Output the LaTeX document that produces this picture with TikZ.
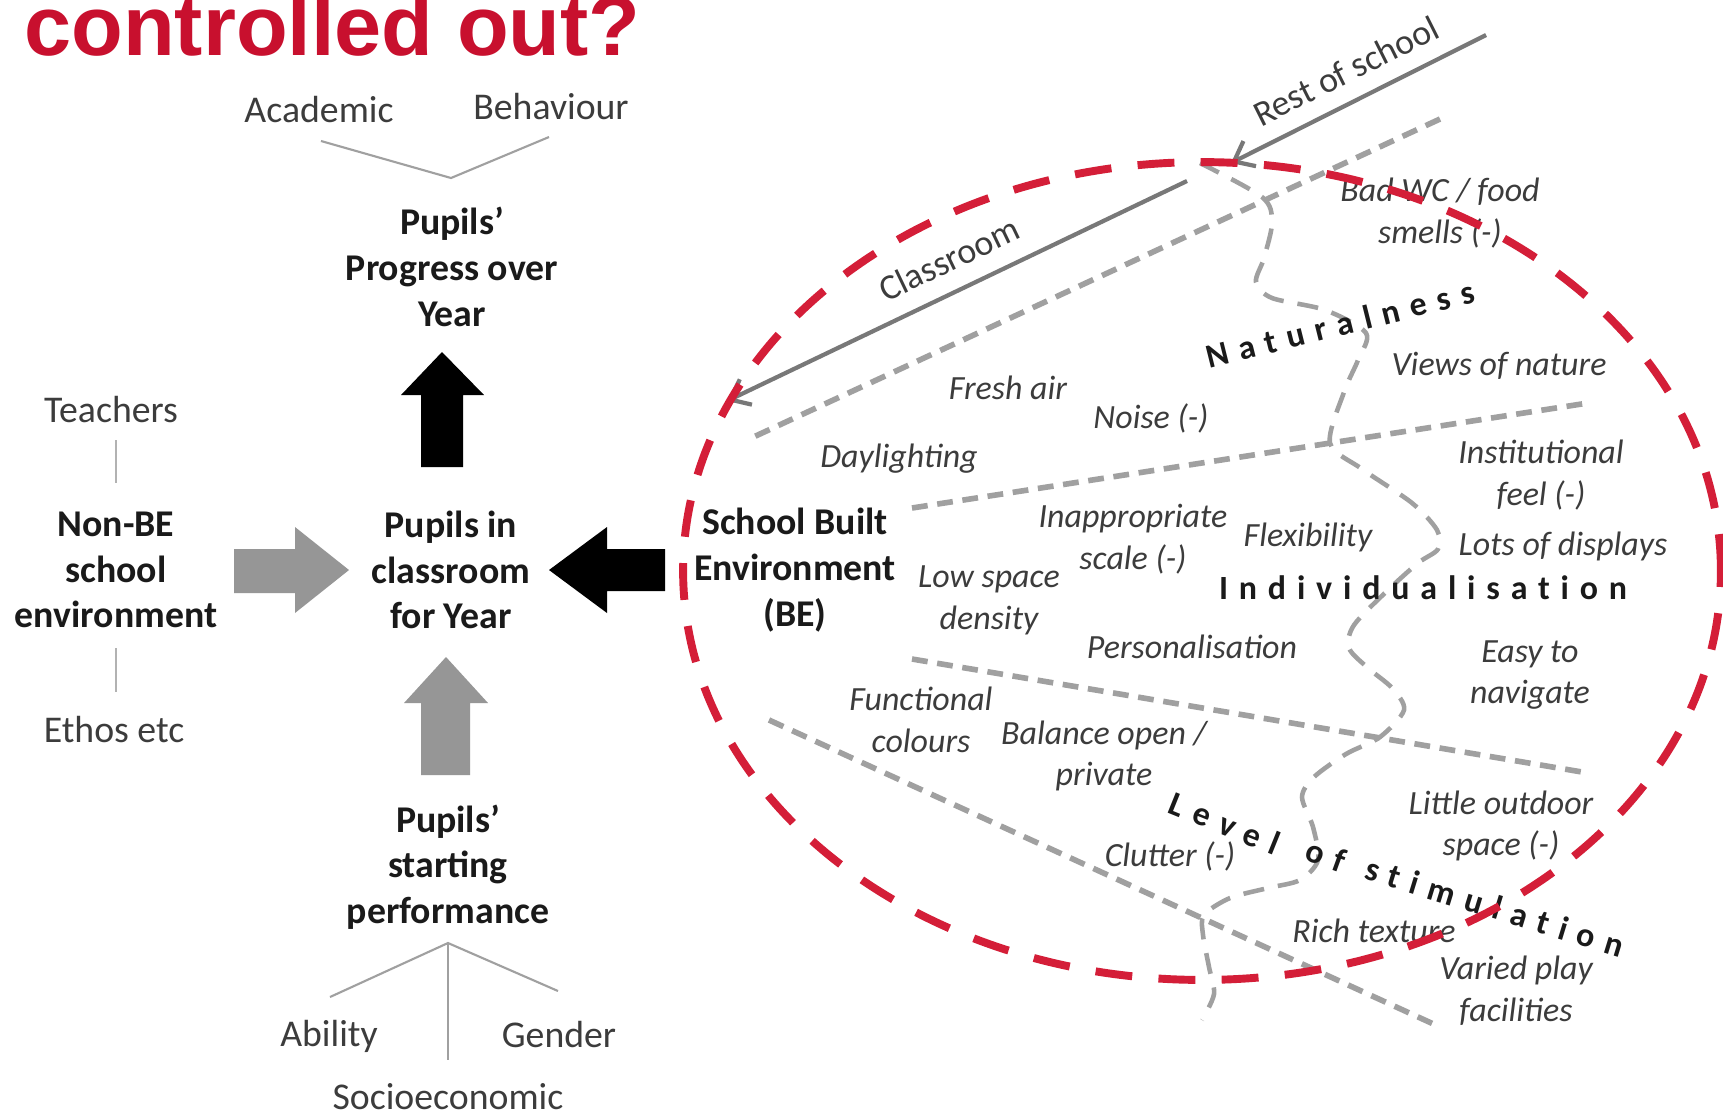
\documentclass[tikz,border=0pt]{standalone}
\usepackage{fontspec}
\setmainfont{Carlito}
\newfontfamily\titlefont{Liberation Sans}
\newfontfamily\spacedfont[LetterSpace=32, Ligatures=NoCommon]{Carlito}
\usetikzlibrary{arrows.meta}
\definecolor{titlered}{RGB}{200,16,46}
\definecolor{ringred}{RGB}{212,30,56}
\definecolor{dashgrey}{RGB}{160,160,160}
\definecolor{linegrey}{RGB}{120,120,120}
\definecolor{arrowgrey}{RGB}{150,150,150}
\definecolor{ink}{RGB}{26,26,26}
\definecolor{softink}{RGB}{60,60,60}

\begin{document}
\begin{tikzpicture}[x=0.02cm,y=-0.02cm,
  every node/.style={inner sep=0pt, align=center},
  mainlbl/.style={font=\fontsize{21.5}{26}\selectfont\bfseries, text=ink},
  sidelbl/.style={font=\fontsize{21.5}{26}\selectfont, text=softink},
  itemlbl/.style={font=\fontsize{19.3}{23.8}\selectfont\itshape, text=softink},
  factorlbl/.style={font=\spacedfont\bfseries\fontsize{19.3}{23.8}\selectfont, text=ink},
  scopelbl/.style={font=\fontsize{20.4}{24}\selectfont, text=softink},
  twig/.style={draw=dashgrey, line width=1.2pt},
  stem/.style={draw=black!30, line width=1.7pt},
  blockblack/.style={fill=black},
  blockgrey/.style={fill=arrowgrey},
  scopearrow/.style={draw=linegrey, line width=2.4pt, -{Straight Barb[length=10pt,width=16pt,line width=2.4pt]}},
  band/.style={draw=dashgrey, line width=3.2pt, dash pattern=on 9pt off 5.5pt},
  wave/.style={draw=dashgrey, line width=2.6pt, dash pattern=on 12pt off 8pt},
  ring/.style={draw=ringred, line width=4.5pt, dash pattern=on 21pt off 15pt}
]
\useasboundingbox (0,0) rectangle (1723,1117);
\fill[white] (0,0) rectangle (1723,1117);
\clip (0,0) rectangle (1723,1117);

% heading
\node[anchor=base west, font=\titlefont\bfseries\fontsize{48.2}{50}\selectfont, text=titlered] (title) at (24,55) {controlled out?};

% ---- left: outcome model ----
\node[sidelbl] (acad) at (319,110) {Academic};
\node[sidelbl] (behav) at (551,107) {Behaviour};
\coordinate (acadfoot) at (321,141);
\coordinate (behavfoot) at (549,137);
\coordinate (vjoin) at (451,178);
\draw[twig] (acadfoot) -- (vjoin) -- (behavfoot);

\node[mainlbl] (progress) at (452,267) {Pupils’\\Progress over\\Year};
\node[mainlbl] (pupils) at (451,570) {Pupils in\\classroom\\for Year};
\node[mainlbl] (nonbe) at (116,570) {Non-BE\\school\\environment};
\node[sidelbl] (teach) at (111,410) {Teachers};
\node[sidelbl] (ethos) at (114,730) {Ethos etc};
\coordinate (t1) at (116,440); \coordinate (t2) at (116,483);
\coordinate (e1) at (116,648); \coordinate (e2) at (116,692);
\draw[stem] (t1) -- (t2);
\draw[stem] (e1) -- (e2);

\node[mainlbl] (start) at (448,867) {Pupils’\\starting\\performance};
\node[sidelbl] (abil) at (329,1036) {Ability};
\node[sidelbl] (gend) at (559,1034) {Gender};
\node[sidelbl] (socio) at (448,1097) {Socioeconomic};
\coordinate (sjoin) at (448,943);
\coordinate (abilfoot) at (330,997);
\coordinate (sociofoot) at (448,1060);
\coordinate (gendfoot) at (558,991);
\draw[twig] (abilfoot) -- (sjoin) -- (gendfoot);
\draw[twig] (sjoin) -- (sociofoot);

\node[mainlbl] (sbe) at (795,570) {School Built\\Environment\\(BE)};

% block arrows
\fill[blockblack] (421,467) -- (421,395) -- (401,395) -- (442,352) -- (484,395) -- (463,395) -- (463,467) -- cycle;
\fill[blockgrey] (234,549) -- (295,549) -- (295,527) -- (349,570) -- (295,613) -- (295,593) -- (234,593) -- cycle;
\fill[blockblack] (665,549) -- (607,549) -- (607,527) -- (549,570) -- (607,613) -- (607,591) -- (665,591) -- cycle;
\fill[blockgrey] (421,775) -- (421,703) -- (404,703) -- (446,657) -- (488,703) -- (470,703) -- (470,775) -- cycle;

% ---- right: built environment factors ----
\draw[band] (1440,119) -- (747,440);
\draw[band] (912,508) -- (1588,403);
\draw[band] (912,659) -- (1588,773);
\draw[band] (769,720) -- (1440,1027);

\draw[wave] plot[smooth, tension=0.5] coordinates {(1200,163) (1262,197) (1272,222) (1264,258) (1256,282) (1272,298) (1325,310) (1366,333) (1358,360) (1344,392) (1330,443) (1362,469) (1412,503) (1437,530) (1438,549) (1418,563) (1388,590) (1354,625) (1349,648) (1368,668) (1392,688) (1404,710) (1380,737) (1346,754) (1314,777) (1302,797) (1313,827) (1318,860) (1300,880) (1268,888) (1230,898) (1204,915) (1203,935) (1209,967) (1214,994) (1202,1020)};

\coordinate (restA) at (1486,35);
\coordinate (restB) at (1231,163);
\draw[scopearrow] (restA) -- (restB);
\node[scopelbl, rotate=26.6] (restlbl) at (1346,71) {Rest of school};
\coordinate (clA) at (1187,181);
\coordinate (clB) at (727,401);
\draw[scopearrow] (clA) -- (clB);
\node[scopelbl, rotate=25.6] (cllbl) at (949,259) {Classroom};

\node[itemlbl] (fresh) at (1008,388) {Fresh air};
\node[itemlbl] (noise) at (1151,418) {Noise (-)};
\node[itemlbl] (views) at (1499,366) {Views of nature};
\node[itemlbl] (bad) at (1440,213) {Bad WC / food\\smells (-)};
\node[itemlbl] (day) at (899,459) {Daylighting};
\node[itemlbl] (inst) at (1541,475) {Institutional\\feel (-)};
\node[itemlbl] (inapp) at (1133,539) {Inappropriate\\scale (-)};
\node[itemlbl] (flex) at (1308,537) {Flexibility};
\node[itemlbl] (lots) at (1563,546) {Lots of displays};
\node[itemlbl] (low) at (989,600) {Low space\\density};
\node[itemlbl] (pers) at (1192,647) {Personalisation};
\node[itemlbl] (easy) at (1530,675) {Easy to\\navigate};
\node[itemlbl] (func) at (921,720) {Functional\\colours};
\node[itemlbl] (bal) at (1104,756) {Balance open /\\private};
\node[itemlbl] (little) at (1501,826) {Little outdoor\\space (-)};
\node[itemlbl] (clut) at (1170,856) {Clutter (-)};
\node[itemlbl] (rich) at (1374,931) {Rich texture};
\node[itemlbl] (varied) at (1516,991) {Varied play\\facilities};

\node[factorlbl, rotate=14] (nat) at (1340,324) {Naturalness};
\node[factorlbl] (indiv) at (1423,588) {Individualisation};
\node[factorlbl, rotate=-22] (lev) at (1225,823) {Level};
\node[factorlbl, rotate=-20] (of) at (1326,855) {of};
\node[factorlbl, rotate=-17] (stim) at (1495,907) {stimulation};

% dashed boundary of the built environment
\draw[ring] (1202,571) ellipse [x radius=10.38cm, y radius=8.18cm];
\end{tikzpicture}
\end{document}
